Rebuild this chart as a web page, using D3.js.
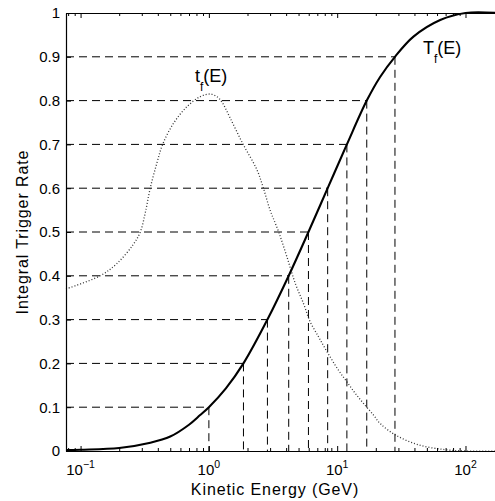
<!DOCTYPE html>
<html>
<head>
<meta charset="utf-8">
<script src="https://cdn.jsdelivr.net/npm/d3@7"></script>
<style>
  body { margin: 0; background: #fff; }
  svg { display: block; font-family: "Liberation Sans", Arial, sans-serif; }
</style>
</head>
<body>
<div id="chart"></div>
<script>
// Integral trigger rate T_f(E)
const TfEnergy = [0.077, 0.1, 0.2, 0.35, 0.5, 0.7, 0.855, 1.0, 1.357, 1.86, 2.86, 4.19, 5.97, 8.43, 11.9, 17.0, 21.6, 28.2, 39.3, 63.5, 100, 176];
const TfRate   = [0.002, 0.003, 0.007, 0.019, 0.033, 0.060, 0.082, 0.1, 0.143, 0.2, 0.3, 0.4, 0.5, 0.6, 0.7, 0.8, 0.854, 0.9, 0.946, 0.984, 1.0, 1.0];

// Differential trigger rate t_f(E) (dotted)
const tfEnergy = [0.077, 0.142, 0.192, 0.258, 0.292, 0.32, 0.349, 0.393, 0.435, 0.53, 0.674, 0.855, 1.02, 1.154, 1.262, 1.466, 1.85, 2.37, 2.66, 3.0, 3.49, 4.05, 4.71, 5.46, 6.16, 7.15, 8.06, 10.2, 11.9, 13.8, 16.0, 19.2, 21.6, 28.3, 43.0, 69.5, 99.5, 176];
const tfRate   = [0.37, 0.40, 0.428, 0.472, 0.50, 0.545, 0.60, 0.657, 0.699, 0.748, 0.786, 0.809, 0.815, 0.809, 0.797, 0.76, 0.70, 0.642, 0.60, 0.55, 0.501, 0.444, 0.383, 0.337, 0.295, 0.261, 0.234, 0.185, 0.158, 0.132, 0.109, 0.082, 0.063, 0.037, 0.014, 0.003, 0.0, 0.0];

// rate levels and the energies where T_f reaches them
const levels      = [0.1, 0.2, 0.3, 0.4, 0.5, 0.6, 0.7, 0.8, 0.9];
const levelEnergy = [1.0, 1.86, 2.86, 4.19, 5.97, 8.43, 11.9, 17.0, 28.2];

const yTicks = [0, 0.1, 0.2, 0.3, 0.4, 0.5, 0.6, 0.7, 0.8, 0.9, 1];
const xMajor = [0.1, 1, 10, 100];
const xExponents = ["\u22121", "0", "1", "2"];

const width = 495, height = 501;
const margin = { top: 13, right: -2, bottom: 50, left: 66 };

const svg = d3.select("#chart").append("svg")
  .attr("width", width)
  .attr("height", height);

const x = d3.scaleLog()
  .domain([0.077, 176])
  .range([margin.left, width - margin.right]);

const y = d3.scaleLinear()
  .domain([0, 1])
  .range([height - margin.bottom, margin.top]);

// minor log ticks
const xMinor = [];
[0.01, 0.1, 1, 10, 100].forEach(dec => {
  for (let k = 2; k <= 9; k++) {
    const v = dec * k;
    if (v > 0.077 && v < 176) xMinor.push(v);
  }
});

// dashed guide lines
const guides = svg.append("g")
  .attr("stroke", "#000")
  .attr("stroke-width", 1)
  .attr("stroke-dasharray", "8,5")
  .attr("fill", "none");

guides.selectAll("line.h")
  .data(levels)
  .enter().append("line")
  .attr("class", "h")
  .attr("x1", x(0.077))
  .attr("x2", (d, i) => x(levelEnergy[i]))
  .attr("y1", d => y(d))
  .attr("y2", d => y(d));

guides.selectAll("line.v")
  .data(levels)
  .enter().append("line")
  .attr("class", "v")
  .attr("x1", (d, i) => x(levelEnergy[i]))
  .attr("x2", (d, i) => x(levelEnergy[i]))
  .attr("y1", d => y(d))
  .attr("y2", y(0));

// dotted t_f(E)
const tLine = d3.line()
  .x((d, i) => x(tfEnergy[i]))
  .y(d => y(d))
  .curve(d3.curveCatmullRom.alpha(0.5));

svg.append("path")
  .datum(tfRate)
  .attr("d", tLine)
  .attr("fill", "none")
  .attr("stroke", "#333")
  .attr("stroke-width", 1.3)
  .attr("stroke-dasharray", "1,2");

// solid T_f(E)
const TLine = d3.line()
  .x((d, i) => x(TfEnergy[i]))
  .y(d => y(d))
  .curve(d3.curveCatmullRom.alpha(0.5));

svg.append("path")
  .datum(TfRate)
  .attr("d", TLine)
  .attr("fill", "none")
  .attr("stroke", "#000")
  .attr("stroke-width", 2.1)
  .attr("stroke-linejoin", "round");

// axes (ticks inside, MATLAB style)
const axisStyle = g => {
  g.select(".domain").attr("stroke", "#000").attr("stroke-width", 1.2);
  g.selectAll(".tick line").attr("stroke", "#000");
};

svg.append("g")
  .attr("transform", `translate(0,${y(0)})`)
  .call(d3.axisBottom(x).tickValues(xMinor).tickSize(-3).tickSizeOuter(0).tickFormat(""))
  .call(axisStyle);
svg.append("g")
  .attr("transform", `translate(0,${y(0)})`)
  .call(d3.axisBottom(x).tickValues(xMajor).tickSize(-5).tickSizeOuter(0).tickFormat(""))
  .call(g => g.select(".domain").remove());

svg.append("g")
  .attr("transform", `translate(0,${y(1)})`)
  .call(d3.axisTop(x).tickValues(xMinor).tickSize(-3).tickSizeOuter(0).tickFormat(""))
  .call(axisStyle);
svg.append("g")
  .attr("transform", `translate(0,${y(1)})`)
  .call(d3.axisTop(x).tickValues(xMajor).tickSize(-5).tickSizeOuter(0).tickFormat(""))
  .call(g => g.select(".domain").remove());

svg.append("g")
  .attr("transform", `translate(${margin.left},0)`)
  .call(d3.axisLeft(y).tickValues(yTicks).tickSize(-5).tickSizeOuter(0).tickPadding(6)
    .tickFormat(d => d === 0 ? "0" : d === 1 ? "1" : d.toFixed(1)))
  .call(axisStyle)
  .call(g => g.selectAll("text")
    .attr("font-size", 15)
    .attr("font-family", "'Liberation Sans', Arial, sans-serif")
    .attr("fill", "#000"));

// x tick labels 10^n
const xl = svg.append("g")
  .attr("font-size", 15)
  .attr("text-anchor", "middle");
xMajor.forEach((v, i) => {
  const t = xl.append("text")
    .attr("x", x(v))
    .attr("y", y(0) + 24);
  t.append("tspan").text("10");
  t.append("tspan").attr("dy", -7).attr("font-size", 10.5).text(xExponents[i]);
});

// axis titles
svg.append("text")
  .attr("x", 275)
  .attr("y", 495)
  .attr("text-anchor", "middle")
  .attr("font-size", 16)
  .attr("letter-spacing", 0.9)
  .text("Kinetic Energy (GeV)");

svg.append("text")
  .attr("transform", "translate(28,232) rotate(-90)")
  .attr("text-anchor", "middle")
  .attr("font-size", 16)
  .attr("letter-spacing", 0.9)
  .text("Integral Trigger Rate");

// curve labels
function curveLabel(px, py, main) {
  const t = svg.append("text")
    .attr("x", px)
    .attr("y", py)
    .attr("font-size", 18);
  t.append("tspan").text(main);
  t.append("tspan").attr("dy", 9).attr("font-size", 12).text("f");
  t.append("tspan").attr("dy", -9).text("(E)");
}
curveLabel(423, 54, "T");
curveLabel(195, 82, "t");
</script>
</body>
</html>
